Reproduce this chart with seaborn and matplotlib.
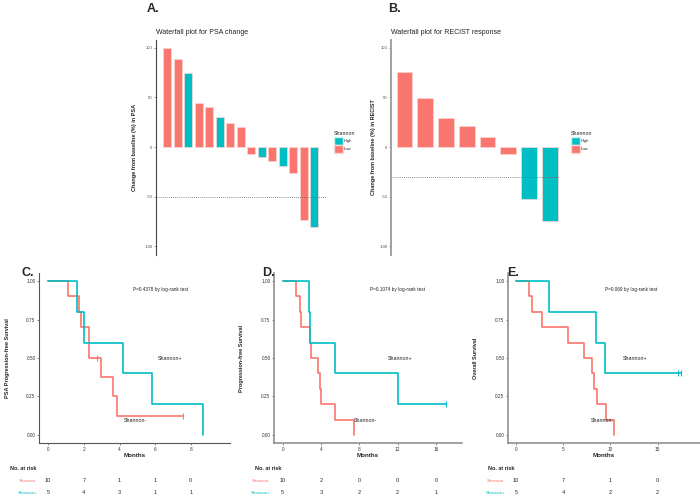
import numpy as np
import pandas as pd
import matplotlib
matplotlib.use("Agg")
import matplotlib.pyplot as plt
import matplotlib.transforms as mtransforms
from matplotlib.patches import Patch
import seaborn as sns

RED = "#F8766D"
TEAL = "#00BFC4"

# waterfall data
psa_change = [100, 89, 75, 44, 40, 30, 24, 20, -7, -10, -14, -19, -26, -74, -81]
psa_group = ["Low", "Low", "High", "Low", "Low", "High", "Low", "Low",
             "Low", "High", "Low", "High", "Low", "Low", "High"]
recist_change = [76, 49, 29, 21, 10, -7, -52, -75]
recist_group = ["Low", "Low", "Low", "Low", "Low", "Low", "High", "High"]
wf_ticks = [-100, -50, 0, 50, 100]

# Kaplan-Meier steps (time, survival)
c_neg_t = [0, 1.09, 1.73, 1.84, 2.29, 2.94, 3.65, 3.88, 7.55]
c_neg_s = [1, 0.9, 0.8, 0.7, 0.5, 0.375, 0.25, 0.125, 0.125]
c_neg_cens_t = [2.75, 7.55]
c_neg_cens_s = [0.5, 0.125]
c_pos_t = [0, 1.59, 2.02, 4.21, 5.83, 8.71]
c_pos_s = [1, 0.8, 0.6, 0.4, 0.2, 0]

d_neg_t = [0, 1.36, 1.81, 1.88, 2.82, 2.96, 3.73, 3.87, 3.97, 5.5, 7.49]
d_neg_s = [1, 0.9, 0.8, 0.7, 0.6, 0.5, 0.4, 0.3, 0.2, 0.1, 0]
d_pos_t = [0, 2.75, 2.89, 5.5, 12.0, 17.1]
d_pos_s = [1, 0.8, 0.6, 0.4, 0.2, 0.2]
d_pos_cens_t = [17.1]
d_pos_cens_s = [0.2]

e_neg_t = [0, 1.34, 1.70, 2.72, 5.48, 7.22, 8.1, 8.24, 8.56, 9.51, 10.36]
e_neg_s = [1, 0.9, 0.8, 0.7, 0.6, 0.5, 0.4, 0.3, 0.2, 0.1, 0]
e_pos_t = [0, 3.47, 8.52, 9.48, 17.47]
e_pos_s = [1, 0.8, 0.6, 0.4, 0.4]
e_pos_cens_t = [17.2, 17.47]
e_pos_cens_s = [0.4, 0.4]

# numbers at risk
c_risk_t = [0, 2, 4, 6, 8]
c_risk_neg = [10, 7, 1, 1, 0]
c_risk_pos = [5, 4, 3, 1, 1]
d_risk_t = [0, 4, 8, 12, 16]
d_risk_neg = [10, 2, 0, 0, 0]
d_risk_pos = [5, 3, 2, 2, 1]
e_risk_t = [0, 5, 10, 15]
e_risk_neg = [10, 7, 1, 0]
e_risk_pos = [5, 4, 2, 2]

sns.set_style("white")
plt.rcParams['font.family'] = ['Liberation Sans', 'DejaVu Sans']
plt.rcParams['axes.unicode_minus'] = False

fig = plt.figure(figsize=(7, 4.99), dpi=100)
W, H = 700.0, 499.0


def px_axes(x0, y0, x1, y1):
    return fig.add_axes([x0 / W, 1 - y1 / H, (x1 - x0) / W, (y1 - y0) / H])


def waterfall(ax, values, groups, ref, title, ylabel, xlim, spine_col, spine_w, leg_x, lab_x):
    df = pd.DataFrame({"patient": [str(i + 1) for i in range(len(values))],
                       "change": values, "Shannon": groups})
    sns.barplot(data=df, x="patient", y="change", hue="Shannon", hue_order=["High", "Low"],
                palette={"High": TEAL, "Low": RED}, dodge=False, width=0.76, saturation=1,
                edgecolor="#fbd6d3", linewidth=0.5, legend=False, ax=ax)
    ax.axhline(ref, color="#666666", lw=0.6, ls=(0, (1, 1.5)))
    ax.set_xlim(*xlim)
    ax.set_ylim(-109, 108)
    ax.set_yticks(wf_ticks)
    ax.set_yticklabels([str(t) for t in wf_ticks])
    ax.set_xticks([])
    ax.set_xlabel("")
    ax.set_ylabel(ylabel, fontsize=4, fontweight="bold")
    ax.yaxis.set_label_coords(lab_x, 0.5)
    for s in ["top", "right", "bottom"]:
        ax.spines[s].set_visible(False)
    ax.spines["left"].set_color(spine_col)
    ax.spines["left"].set_linewidth(spine_w)
    ax.tick_params(axis="y", labelsize=3, length=1.5, width=0.4, pad=1,
                   colors="#4d4d4d", left=True)
    ax.set_title(title, loc="left", fontsize=5, pad=4, color="#222222")
    handles = [Patch(facecolor=TEAL, edgecolor="#d0f2f3", label="High"),
               Patch(facecolor=RED, edgecolor="#fbd6d3", label="Low")]
    ax.legend(handles=handles, title="Shannon", loc="upper left", bbox_to_anchor=(leg_x, 0.575),
              frameon=False, fontsize=3, title_fontsize=3.8, handlelength=2.1, handleheight=2.6,
              handletextpad=0.25, labelspacing=0.05, borderaxespad=0, borderpad=0,
              alignment="left")


def km(ax, curves, censors, xlim, xticks, ylabel, lab_x, ptext, ppos, pluspos, minuspos,
       spine_col, spine_w):
    for (t, s, col) in curves:
        sns.lineplot(x=t, y=s, drawstyle="steps-post", color=col, lw=1.2,
                     estimator=None, sort=False, ax=ax)
    for (t, s, col) in censors:
        ax.plot(t, s, ls="none", marker="|", ms=4.5, mew=0.8, color=col)
    ax.set_xlim(*xlim)
    ax.set_ylim(-0.052, 1.052)
    ax.set_xticks(xticks)
    ax.set_yticks([0, 0.25, 0.5, 0.75, 1.0])
    ax.set_yticklabels(["0.00", "0.25", "0.50", "0.75", "1.00"])
    ax.set_xlabel("Months", fontsize=4.5, fontweight="bold", labelpad=1)
    ax.set_ylabel(ylabel, fontsize=4, fontweight="bold")
    ax.yaxis.set_label_coords(lab_x, 0.5)
    for s in ["top", "right"]:
        ax.spines[s].set_visible(False)
    for s in ["left", "bottom"]:
        ax.spines[s].set_color(spine_col)
        ax.spines[s].set_linewidth(spine_w)
    ax.tick_params(labelsize=3.4, length=1.5, width=0.4, pad=1.2, colors="#333333",
                   left=True, bottom=True)
    ax.text(ppos[0], ppos[1], ptext, fontsize=3.4, ha="center", va="center", color="#222222")
    ax.text(pluspos[0], pluspos[1], "Shannon+", fontsize=3.8, ha="center", va="center",
            color="#222222")
    ax.text(minuspos[0], minuspos[1], "Shannon-", fontsize=3.8, ha="center", va="center",
            color="#222222")


def risk_table(ax, times, neg, pos, title_x, lab_x):
    tr = mtransforms.blended_transform_factory(ax.transData, fig.transFigure)
    fig.text(title_x / W, 1 - 468 / H, "No. at risk", fontsize=4, fontweight="bold",
             ha="left", va="center")
    fig.text(lab_x / W, 1 - 481 / H, "Shannon-", fontsize=3.2, color=RED, ha="right", va="center")
    fig.text(lab_x / W, 1 - 493 / H, "Shannon+", fontsize=3.2, color=TEAL, ha="right", va="center")
    for t, n in zip(times, neg):
        ax.text(t, 1 - 481 / H, str(n), transform=tr, fontsize=4, ha="center", va="center")
    for t, n in zip(times, pos):
        ax.text(t, 1 - 493 / H, str(n), transform=tr, fontsize=4, ha="center", va="center")


# A: PSA waterfall
ax_a = px_axes(156, 40, 326, 255)
waterfall(ax_a, psa_change, psa_group, -50, "Waterfall plot for PSA change",
          "Change from baseline (%) in PSA", (-1.07, 15.1), "#444444", 0.8, 1.047, -0.111)

# B: RECIST waterfall
ax_b = px_axes(391, 40, 560, 255)
waterfall(ax_b, recist_change, recist_group, -30, "Waterfall plot for RECIST response",
          "Change from baseline (%) in RECIST", (-0.65, 7.5), "#9a9a9a", 1.3, 1.065, -0.09)

# C: PSA progression-free survival
ax_c = px_axes(39.3, 273, 230, 443)
km(ax_c, [(c_neg_t, c_neg_s, RED), (c_pos_t, c_pos_s, TEAL)],
   [(c_neg_cens_t, c_neg_cens_s, RED)], (-0.5, 10.2), [0, 2, 4, 6, 8],
   "PSA Progression-free Survival", -0.154, "P=0.4378 by log-rank test",
   (6.28, 0.948), (6.84, 0.494), (4.87, 0.091), "#555555", 0.8)
risk_table(ax_c, c_risk_t, c_risk_neg, c_risk_pos, 10, 37)

# D: progression-free survival
ax_d = px_axes(274.3, 273, 461.7, 443)
km(ax_d, [(d_neg_t, d_neg_s, RED), (d_pos_t, d_pos_s, TEAL)],
   [(d_pos_cens_t, d_pos_cens_s, TEAL)], (-0.88, 18.7), [0, 4, 8, 12, 16],
   "Progression-free Survival", -0.162, "P=0.1074 by log-rank test",
   (11.96, 0.948), (12.27, 0.494), (8.6, 0.091), "#888888", 1.1)
risk_table(ax_d, d_risk_t, d_risk_neg, d_risk_pos, 255, 270)

# E: overall survival
ax_e = px_axes(508.3, 273, 700, 443)
km(ax_e, [(e_neg_t, e_neg_s, RED), (e_pos_t, e_pos_s, TEAL)],
   [(e_pos_cens_t, e_pos_cens_s, TEAL)], (-0.82, 19.5), [0, 5, 10, 15],
   "Overall Survival", -0.158, "P=0.069 by log-rank test",
   (12.2, 0.948), (12.6, 0.494), (9.18, 0.091), "#888888", 1.1)
risk_table(ax_e, e_risk_t, e_risk_neg, e_risk_pos, 488, 505)

# panel letters
for lab, x, y in [("A.", 147, 9), ("B.", 388, 9), ("C.", 21, 273), ("D.", 262, 273), ("E.", 507, 273)]:
    fig.text(x / W, 1 - y / H, lab, fontsize=9, fontweight="bold", ha="left", va="center")

fig.savefig("out.png", dpi=100)
